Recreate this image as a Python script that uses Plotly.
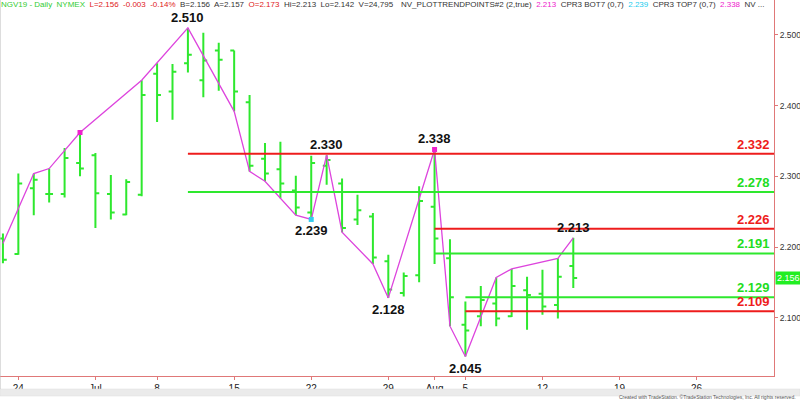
import plotly.graph_objects as go

# ---- data ----
trading_days = ["2019-06-21", "2019-06-24", "2019-06-25", "2019-06-26", "2019-06-27", "2019-06-28",
                "2019-07-01", "2019-07-02", "2019-07-03", "2019-07-05", "2019-07-08", "2019-07-09",
                "2019-07-10", "2019-07-11", "2019-07-12", "2019-07-15", "2019-07-16", "2019-07-17",
                "2019-07-18", "2019-07-19", "2019-07-22", "2019-07-23", "2019-07-24", "2019-07-25",
                "2019-07-26", "2019-07-29", "2019-07-30", "2019-07-31", "2019-08-01", "2019-08-02",
                "2019-08-05", "2019-08-06", "2019-08-07", "2019-08-08", "2019-08-09", "2019-08-12",
                "2019-08-13", "2019-08-14", "2019-08-15", "2019-08-16", "2019-08-19", "2019-08-20",
                "2019-08-21", "2019-08-22", "2019-08-23", "2019-08-26", "2019-08-27", "2019-08-28",
                "2019-08-29", "2019-08-30"]

opens  = [2.212, 2.190, 2.283, 2.275, 2.275, 2.319, 2.330, 2.275, 2.246, 2.274, 2.445, 2.420,
          2.460, 2.436, 2.478, 2.478, 2.405, 2.325, 2.310, 2.280, 2.249, 2.315, 2.290, 2.239,
          2.243, 2.180, 2.135, 2.160, 2.257, 2.184, 2.090, 2.102, 2.120, 2.102, 2.139, 2.134,
          2.118, 2.173]
highs  = [2.219, 2.304, 2.304, 2.311, 2.340, 2.362, 2.333, 2.302, 2.296, 2.436, 2.460, 2.459,
          2.510, 2.503, 2.489, 2.478, 2.415, 2.347, 2.349, 2.301, 2.329, 2.330, 2.297, 2.274,
          2.248, 2.189, 2.164, 2.286, 2.338, 2.211, 2.123, 2.145, 2.157, 2.169, 2.158, 2.168,
          2.184, 2.213]
lows   = [2.177, 2.189, 2.245, 2.263, 2.270, 2.300, 2.227, 2.239, 2.245, 2.272, 2.377, 2.380,
          2.447, 2.412, 2.421, 2.392, 2.307, 2.293, 2.269, 2.245, 2.239, 2.288, 2.221, 2.231,
          2.176, 2.128, 2.130, 2.150, 2.176, 2.088, 2.045, 2.088, 2.088, 2.101, 2.083, 2.104,
          2.099, 2.142]
closes = [2.182, 2.290, 2.295, 2.275, 2.326, 2.311, 2.276, 2.249, 2.292, 2.415, 2.415, 2.448,
          2.472, 2.464, 2.465, 2.420, 2.315, 2.304, 2.290, 2.256, 2.319, 2.323, 2.227, 2.252,
          2.185, 2.140, 2.159, 2.265, 2.212, 2.129, 2.082, 2.125, 2.099, 2.145, 2.132, 2.116,
          2.158, 2.156]

# zigzag trend points (bar index, price)
trend_idx = [0, 2, 3, 5, 9, 12, 15, 16, 17, 18, 19, 20, 21, 22, 24, 25, 28, 29, 30, 32, 33, 36, 37]
trend_val = [2.205, 2.304, 2.311, 2.362, 2.436, 2.510, 2.392, 2.307, 2.293, 2.269, 2.245, 2.239,
             2.330, 2.221, 2.176, 2.128, 2.338, 2.088, 2.045, 2.157, 2.169, 2.184, 2.213]

# labelled swing points (bar index, price, above?)
swing_idx = [12, 21, 20, 28, 25, 30, 37]
swing_val = [2.510, 2.330, 2.239, 2.338, 2.128, 2.045, 2.213]
swing_up = [True, True, False, True, False, False, True]

# horizontal levels (start bar index, price, colour key)
level_start = [12, 12, 28, 28, 30, 30]
level_val = [2.332, 2.278, 2.226, 2.191, 2.129, 2.109]
level_kind = ["r", "g", "r", "g", "g", "r"]

# x axis tick dates and labels
tick_dates = ["2019-06-24", "2019-07-01", "2019-07-08", "2019-07-15", "2019-07-22", "2019-07-29",
              "2019-08-01", "2019-08-05", "2019-08-12", "2019-08-19", "2019-08-26"]
tick_text = ["24", "Jul", "8", "15", "22", "29", "Aug", "5", "12", "19", "26"]

last_price = 2.156

# ---- styling ----
GREEN = "#2ee82e"
GREEN_T = "#22dd22"
RED = "#ee1c1c"
MAG = "#dd44dd"
AXIS = "#e07878"
FONT = "Liberation Sans, Arial, sans-serif"

idx = list(range(len(opens)))
tick_idx = [trading_days.index(d) for d in tick_dates]
x_min, x_max = -0.19, 50.02

fig = go.Figure()
fig.add_trace(go.Ohlc(x=idx, open=opens, high=highs, low=lows, close=closes,
                      increasing=dict(line=dict(color=GREEN, width=2)),
                      decreasing=dict(line=dict(color=GREEN, width=2)),
                      tickwidth=0.25, hoverinfo="skip", showlegend=False))

fig.add_trace(go.Scatter(x=trend_idx, y=trend_val, mode="lines",
                         line=dict(color=MAG, width=1.3), hoverinfo="skip", showlegend=False))

# small markers on trend points
fig.add_trace(go.Scatter(x=[5, 28], y=[highs[5], highs[28]], mode="markers",
                         marker=dict(color="#ee22cc", size=5, symbol="square"),
                         hoverinfo="skip", showlegend=False))
fig.add_trace(go.Scatter(x=[20], y=[lows[20]], mode="markers",
                         marker=dict(color="#33ccee", size=5, symbol="square"),
                         hoverinfo="skip", showlegend=False))

shapes = []
annotations = []
for s, v, k in zip(level_start, level_val, level_kind):
    col = RED if k == "r" else GREEN
    shapes.append(dict(type="line", xref="x", yref="y", x0=s, x1=x_max, y0=v, y1=v,
                       line=dict(color=col, width=2)))
    annotations.append(dict(xref="paper", yref="y", x=0.997, y=v, xanchor="right", yanchor="bottom",
                            yshift=0, text="<b>%.3f</b>" % v, showarrow=False,
                            font=dict(family=FONT, size=13, color=RED if k == "r" else GREEN_T)))

for i, v, up in zip(swing_idx, swing_val, swing_up):
    annotations.append(dict(xref="x", yref="y", x=i, y=v, text="<b>%.3f</b>" % v, showarrow=False,
                            yanchor="bottom" if up else "top", yshift=1 if up else -2,
                            font=dict(family=FONT, size=13, color="#111111")))

# last price box
annotations.append(dict(xref="paper", yref="y", x=1.0, y=last_price, xanchor="left", yanchor="middle",
                        xshift=1, text="%.3f" % last_price, showarrow=False, bgcolor="#22ee22",
                        borderpad=1, font=dict(family=FONT, size=9, color="#ffffff")))

# header
sp = "&nbsp; "
hdr1 = ("<span style='color:#33cc33'>NGV19 - Daily" + sp + "NYMEX</span>" + sp +
        "<span style='color:#e02020'>L=2.156" + sp + "-0.003" + sp + "-0.14%</span>" + sp +
        "<span style='color:#333'>B=2.156" + sp + "A=2.157</span>" + sp +
        "<span style='color:#e02020'>O=2.173</span>" + sp +
        "<span style='color:#333'>Hi=2.213" + sp + "Lo=2.142" + sp + "V=24,795</span>")
hdr2 = ("<span style='color:#333'>NV_PLOTTRENDPOINTS#2 (2,true)</span>" + sp +
        "<span style='color:#ee22cc'>2.213</span>" + sp +
        "<span style='color:#333'>CPR3 BOT7 (0,7)</span>" + sp +
        "<span style='color:#22ccee'>2.239</span>" + sp +
        "<span style='color:#333'>CPR3 TOP7 (0,7)</span>" + sp +
        "<span style='color:#ee22cc'>2.338</span>" + sp +
        "<span style='color:#333'>NV ...</span>")
annotations.append(dict(xref="paper", yref="paper", x=0.0, y=1.0, xanchor="left", yanchor="top",
                        yshift=2, xshift=-1, text=hdr1, showarrow=False, font=dict(family=FONT, size=8)))
annotations.append(dict(xref="paper", yref="paper", x=400 / 774, y=1.0, xanchor="left", yanchor="top",
                        yshift=2, xshift=-1, text=hdr2, showarrow=False, font=dict(family=FONT, size=8)))

# footer
annotations.append(dict(xref="paper", yref="paper", x=798 / 774, y=-(402 - 376) / 376, xanchor="right",
                        yanchor="bottom", text="Created with TradeStation. \u00a9TradeStation Technologies, Inc. All rights reserved.",
                        showarrow=False, font=dict(family=FONT, size=5, color="#555555")))

# scrollbar strip and left border
shapes.append(dict(type="rect", xref="paper", yref="paper", x0=0, x1=800 / 774,
                   y0=-(396 - 376) / 376, y1=-(389 - 376) / 376,
                   fillcolor="#ebebeb", line=dict(color="#dddddd", width=0.5)))
shapes.append(dict(type="line", xref="paper", yref="paper", x0=0, x1=0, y0=-(389 - 376) / 376, y1=1,
                   line=dict(color="#bbbbbb", width=1)))

fig.update_layout(
    width=800, height=402,
    margin=dict(l=0, r=26, t=0, b=26),
    paper_bgcolor="#ffffff", plot_bgcolor="#ffffff",
    font=dict(family=FONT),
    shapes=shapes, annotations=annotations,
    showlegend=False,
    xaxis=dict(range=[x_min, x_max], rangeslider=dict(visible=False), showgrid=False, zeroline=False,
               tickmode="array", tickvals=tick_idx, ticktext=tick_text,
               ticks="outside", ticklen=3, tickcolor=AXIS,
               showline=True, linecolor=AXIS, linewidth=1,
               tickfont=dict(family=FONT, size=10, color="#222222")),
    yaxis=dict(side="right", range=[2.0175, 2.5495], showgrid=False, zeroline=False,
               tickmode="linear", tick0=2.0, dtick=0.1, tickformat=".3f",
               ticks="outside", ticklen=3, tickcolor=AXIS,
               showline=True, linecolor=AXIS, linewidth=1,
               tickfont=dict(family=FONT, size=8.5, color="#333333")),
)

fig.write_html("out.html", config={"displayModeBar": False},
               post_script="document.body.style.margin='0px';document.body.style.overflow='hidden';")
